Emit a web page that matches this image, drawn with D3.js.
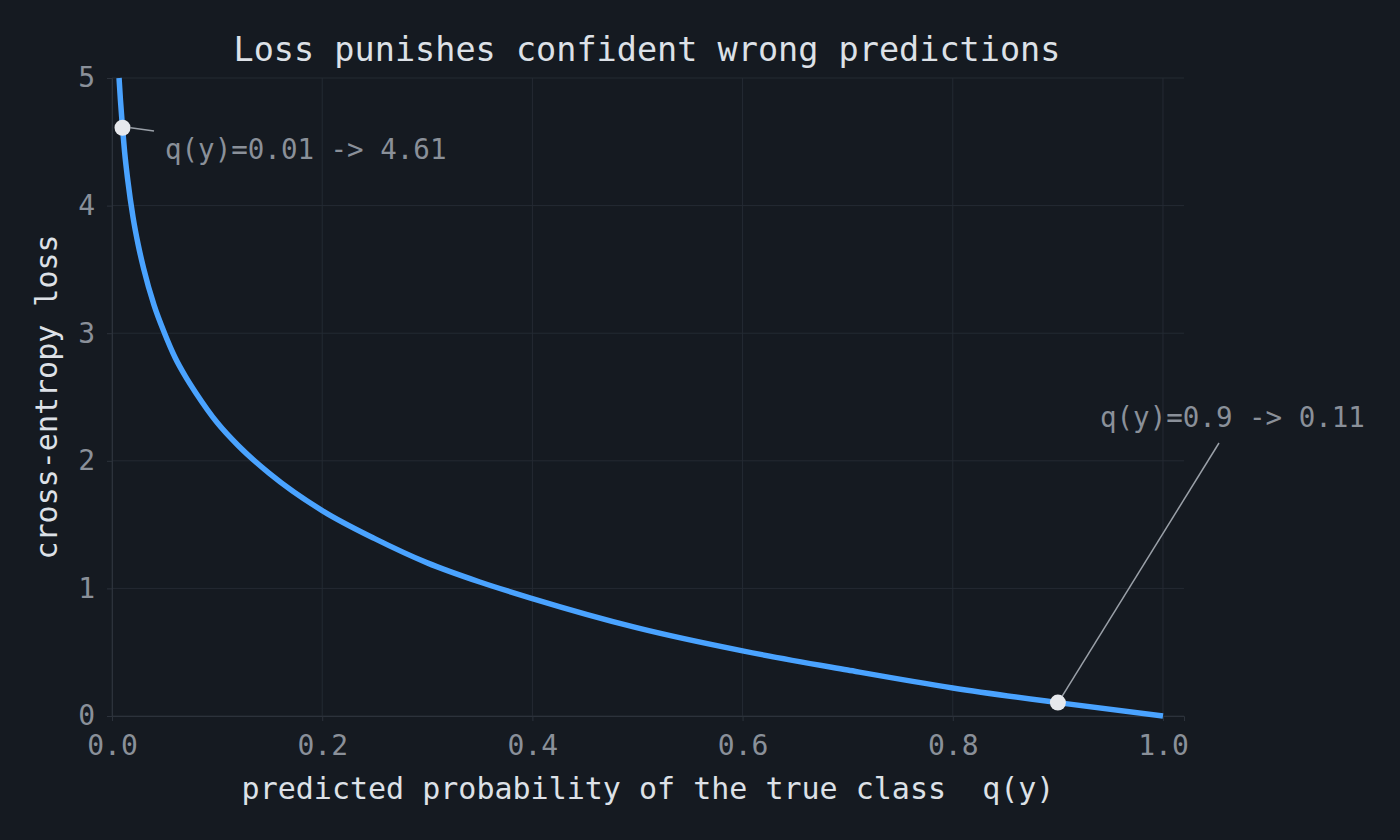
<!DOCTYPE html>
<html><head><meta charset="utf-8">
<script src="https://cdn.jsdelivr.net/npm/d3@7"></script>
<style>body{margin:0;background:#151a21;} text{white-space:pre;}</style>
</head><body>
<svg id="c" width="1400" height="840"></svg>
<script>
const probs = [0.0067,0.008,0.01,0.012,0.015,0.02,0.025,0.03,0.04,0.05,0.06,0.07,0.08,0.1,0.12,0.15,0.2,0.25,0.3,0.35,0.4,0.5,0.6,0.7,0.8,0.9,1.0];
const losses = [5.0,4.83,4.61,4.42,4.20,3.91,3.69,3.51,3.22,3.00,2.81,2.66,2.53,2.30,2.12,1.90,1.61,1.39,1.20,1.05,0.92,0.69,0.51,0.36,0.22,0.105,0.0];
const xTicks = [0,0.2,0.4,0.6,0.8,1.0];
const yTicks = [0,1,2,3,4,5];
const markQ = [0.01,0.9];
const markL = [4.61,0.105];
const markText = ["q(y)=0.01 -> 4.61","q(y)=0.9 -> 0.11"];

const svg = d3.select("#c");
const font = "DejaVu Sans Mono, monospace";
svg.append("rect").attr("width",1400).attr("height",840).attr("fill","#151a21");
const x = d3.scaleLinear().domain([0,1.02]).range([112,1184]);
const y = d3.scaleLinear().domain([0,5]).range([716,78]);

const g = svg.append("g");
xTicks.forEach(t=>g.append("line").attr("x1",x(t)).attr("x2",x(t)).attr("y1",78).attr("y2",716).attr("stroke","#242a33").attr("stroke-width",1));
yTicks.forEach(t=>g.append("line").attr("x1",112).attr("x2",1184).attr("y1",y(t)).attr("y2",y(t)).attr("stroke","#242a33").attr("stroke-width",1));

const xa = svg.append("g").attr("transform","translate(0,716)").call(d3.axisBottom(x).tickValues(xTicks).tickFormat(d3.format(".1f")).tickSize(5).tickPadding(14));
const ya = svg.append("g").attr("transform","translate(112,0)").call(d3.axisLeft(y).tickValues(yTicks).tickFormat(d3.format("d")).tickSize(5).tickPadding(12));
[xa,ya].forEach(a=>{a.select(".domain").attr("stroke","#2c323b");a.selectAll(".tick line").attr("stroke","#2c323b");a.selectAll("text").attr("fill","#8a9099").attr("font-family",font).attr("font-size",28);});

const data = probs.map((p,i)=>[p,losses[i]]);
svg.append("path").datum(data).attr("fill","none").attr("stroke","#4aa3ff").attr("stroke-width",5.5)
  .attr("d",d3.line().x(d=>x(d[0])).y(d=>y(d[1])).curve(d3.curveMonotoneX));

svg.append("line").attr("x1",x(markQ[0])+8).attr("y1",y(markL[0])).attr("x2",154).attr("y2",131).attr("stroke","#9aa0a8").attr("stroke-width",1.5);
svg.append("line").attr("x1",x(markQ[1])+4).attr("y1",y(markL[1])-6).attr("x2",1219).attr("y2",443).attr("stroke","#9aa0a8").attr("stroke-width",1.5);
markQ.forEach((q,i)=>svg.append("circle").attr("cx",x(q)).attr("cy",y(markL[i])).attr("r",8).attr("fill","#e6e8ec"));
svg.append("text").attr("x",165).attr("y",159).text(markText[0]).attr("fill","#8a9099").attr("font-family",font).attr("font-size",27.5);
svg.append("text").attr("x",1100).attr("y",427).text(markText[1]).attr("fill","#8a9099").attr("font-family",font).attr("font-size",27.5);

svg.append("text").attr("x",647).attr("y",61).attr("text-anchor","middle").text("Loss punishes confident wrong predictions").attr("fill","#dde1e7").attr("font-family",font).attr("font-size",33.5);
svg.append("text").attr("x",648).attr("y",799).attr("text-anchor","middle").attr("xml:space","preserve").text("predicted probability of the true class  q(y)").attr("fill","#dde1e7").attr("font-family",font).attr("font-size",30);
svg.append("text").attr("transform","translate(57,397) rotate(-90)").attr("text-anchor","middle").text("cross-entropy loss").attr("fill","#dde1e7").attr("font-family",font).attr("font-size",30);
</script>
</body></html>
